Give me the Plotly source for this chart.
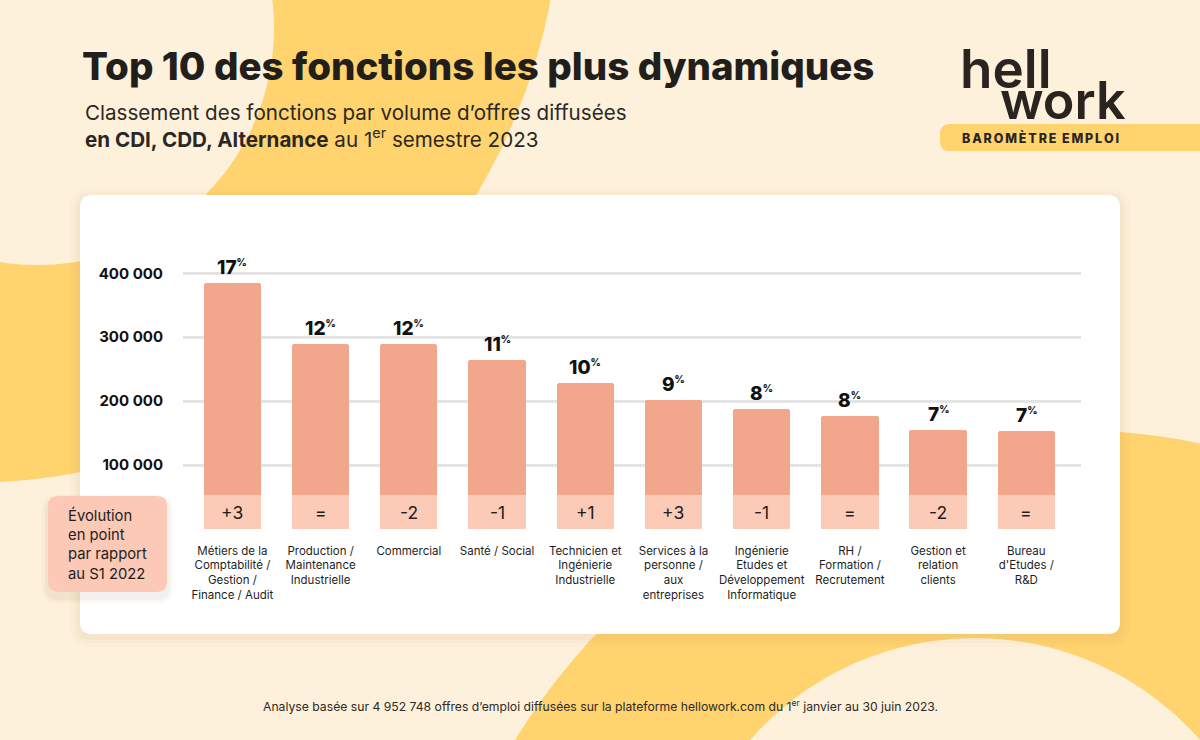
import numpy as np
import plotly.graph_objects as go

# ---------------- data ----------------
categories = [
    "Métiers de la<br>Comptabilité /<br>Gestion /<br>Finance / Audit",
    "Production /<br>Maintenance<br>Industrielle",
    "Commercial",
    "Santé / Social",
    "Technicien et<br>Ingénierie<br>Industrielle",
    "Services à la<br>personne /<br>aux<br>entreprises",
    "Ingénierie<br>Etudes et<br>Développement<br>Informatique",
    "RH /<br>Formation /<br>Recrutement",
    "Gestion et<br>relation<br>clients",
    "Bureau<br>d'Etudes /<br>R&D",
]
offres = [385000, 289000, 289000, 265000, 228000, 202000, 188000, 176000, 155500, 154000]
parts = ["17", "12", "12", "11", "10", "9", "8", "8", "7", "7"]
evolution = ["+3", "=", "-2", "-1", "+1", "+3", "-1", "=", "-2", "="]
y_tickvals = [100000, 200000, 300000, 400000]
y_ticktext = ["100 000", "200 000", "300 000", "400 000"]

# ---------------- layout geometry (pixels) ----------------
W, H = 1200, 740
ML, MR, MT, MB = 183, 119, 230, 211
PW, PH = W - ML - MR, H - MT - MB
PX_PER_100K = 63.93
Y_TOP = PH / PX_PER_100K * 1e5
BAND = 53000  # height of the evolution band drawn at the bottom of each bar

CREAM = "#FDF1DB"
YELLOW = "#FFD36E"
BAR = "#F2A78D"
BAR_LIGHT = "#FCCBB8"
INK = "#221E1B"


def px(x):
    return (x - ML) / PW


def py(y):
    return (H - MB - y) / PH


def circle_path(cx, cy, r, n=180):
    t = np.linspace(0, 2 * np.pi, n, endpoint=False)
    pts = [(px(cx + r * np.cos(a)), py(cy + r * np.sin(a))) for a in t]
    return "M " + " L ".join(f"{x:.5f},{y:.5f}" for x, y in pts) + " Z"


def rrect_path(x0, y0, x1, y1, r):
    P = lambda x, y: f"{px(x):.5f},{py(y):.5f}"
    return (
        f"M {P(x0 + r, y0)} L {P(x1 - r, y0)} Q {P(x1, y0)} {P(x1, y0 + r)} "
        f"L {P(x1, y1 - r)} Q {P(x1, y1)} {P(x1 - r, y1)} "
        f"L {P(x0 + r, y1)} Q {P(x0, y1)} {P(x0, y1 - r)} "
        f"L {P(x0, y0 + r)} Q {P(x0, y0)} {P(x0 + r, y0)} Z"
    )


def pshape(path, color, layer="below"):
    return dict(type="path", path=path, xref="paper", yref="paper",
                fillcolor=color, line=dict(width=0), layer=layer)


shapes = []
# background decorative rings
shapes.append(pshape(circle_path(-33, -111, 594), YELLOW))
shapes.append(pshape(circle_path(37, 28, 237), CREAM))
shapes.append(pshape(circle_path(1069, 1080, 650), YELLOW))
shapes.append(pshape(circle_path(975, 937, 299), CREAM))
# card shadow + card
for g, a in [(10, 0.035), (6, 0.04), (3, 0.05)]:
    shapes.append(pshape(rrect_path(80 - g, 195 - g + 3, 1120 + g, 634 + g + 3, 12 + g),
                         f"rgba(190,150,90,{a})"))
shapes.append(pshape(rrect_path(80, 195, 1120, 634, 12), "white"))
# badge
shapes.append(pshape(rrect_path(940, 124, 1215, 151, 10), YELLOW))
# evolution box shadow + box
for g, a in [(6, 0.03), (3, 0.05)]:
    shapes.append(pshape(rrect_path(48 - g, 496 - g + 5, 167 + g, 592 + g + 5, 10 + g),
                         f"rgba(120,70,40,{a})", "above"))
shapes.append(pshape(rrect_path(48, 496, 167, 592, 10), "#FBC9B5", "above"))

xs = list(range(len(offres)))

fig = go.Figure()
fig.add_trace(go.Bar(x=xs, y=offres, width=0.65, marker=dict(color=BAR, cornerradius=3, line=dict(width=0)),
                     hoverinfo="skip"))
fig.add_trace(go.Bar(x=xs, y=[BAND] * len(xs), width=0.65, marker=dict(color=BAR_LIGHT, line=dict(width=0)),
                     hoverinfo="skip"))

ann = []
for i, (v, p, e) in enumerate(zip(offres, parts, evolution)):
    ann.append(dict(x=i, y=v, xref="x", yref="y", yanchor="bottom", yshift=2, showarrow=False,
                    text=f"{p}<sup><span style='font-size:10px'>%</span></sup>",
                    font=dict(family="Inter", size=19, color="#111", weight=800)))
    ann.append(dict(x=i, y=BAND / 2, xref="x", yref="y", yanchor="middle", showarrow=False,
                    text=e, font=dict(family="Inter", size=17.5, color="#1E1E1E")))

badge = "\u2009".join("BAROMÈTRE") + "\u2009\u2009\u2009" + "\u2009".join("EMPLOI")

ann += [
    dict(x=px(80), y=py(66), xref="paper", yref="paper", xanchor="left", yanchor="middle", showarrow=False,
         text="Top 10 des fonctions les plus dynamiques",
         font=dict(family="Inter", size=38.5, color=INK, weight=800)),
    dict(x=px(83), y=py(112), xref="paper", yref="paper", xanchor="left", yanchor="middle", showarrow=False,
         text="Classement des fonctions par volume d’offres diffusées",
         font=dict(family="Inter", size=20.6, color="#2B2724")),
    dict(x=px(83), y=py(138), xref="paper", yref="paper", xanchor="left", yanchor="middle", showarrow=False,
         text="<b>en CDI, CDD, Alternance</b> au 1<sup>er</sup> semestre 2023",
         font=dict(family="Inter", size=20.6, color="#2B2724")),
    dict(x=px(958), y=py(69), xref="paper", yref="paper", xanchor="left", yanchor="middle", showarrow=False,
         text="hell", font=dict(family="Inter", size=53, color="#2A2421", weight=600)),
    dict(x=px(998), y=py(100), xref="paper", yref="paper", xanchor="left", yanchor="middle", showarrow=False,
         text="work", font=dict(family="Inter", size=52, color="#2A2421", weight=600)),
    dict(x=px(1040), y=py(137.5), xref="paper", yref="paper", xanchor="center", yanchor="middle", showarrow=False,
         text=badge, font=dict(family="Inter", size=12.5, color="#2A2421", weight=800)),
    dict(x=px(66), y=py(544), xref="paper", yref="paper", xanchor="left", yanchor="middle", showarrow=False,
         align="left", text="Évolution<br>en point<br>par rapport<br>au S1 2022",
         font=dict(family="Inter", size=14.8, color="#1E1E1E")),
    dict(x=px(600), y=py(706), xref="paper", yref="paper", xanchor="center", yanchor="middle", showarrow=False,
         text="Analyse basée sur 4 952 748 offres d’emploi diffusées sur la plateforme hellowork.com du 1<sup>er</sup> janvier au 30 juin 2023.",
         font=dict(family="Inter", size=12.2, color="#2E2A27")),
]

fig.update_layout(
    width=W, height=H, margin=dict(l=ML, r=MR, t=MT, b=MB, pad=0),
    paper_bgcolor=CREAM, plot_bgcolor="rgba(0,0,0,0)",
    barmode="overlay", showlegend=False, bargap=0,
    shapes=shapes, annotations=ann,
    font=dict(family="Inter", color="#222"),
    xaxis=dict(range=[-0.56, 9.62], tickvals=xs, ticktext=categories, showgrid=False, zeroline=False,
               showline=False, ticks="", ticklabelstandoff=13,
               tickfont=dict(family="Inter", size=11.5, color="#1E1E1E"), fixedrange=True),
    yaxis=dict(range=[0, Y_TOP], tickvals=y_tickvals, ticktext=y_ticktext,
               showgrid=True, gridcolor="#E4E4E4", gridwidth=2.5, zeroline=False, showline=False, ticks="",
               ticklabelstandoff=19, tickfont=dict(family="Inter", size=15, color="#111", weight=700),
               fixedrange=True),
)

fig.write_html("out.html", config={"displayModeBar": False},
               post_script="document.body.style.margin='0';document.body.style.overflow='hidden';")
